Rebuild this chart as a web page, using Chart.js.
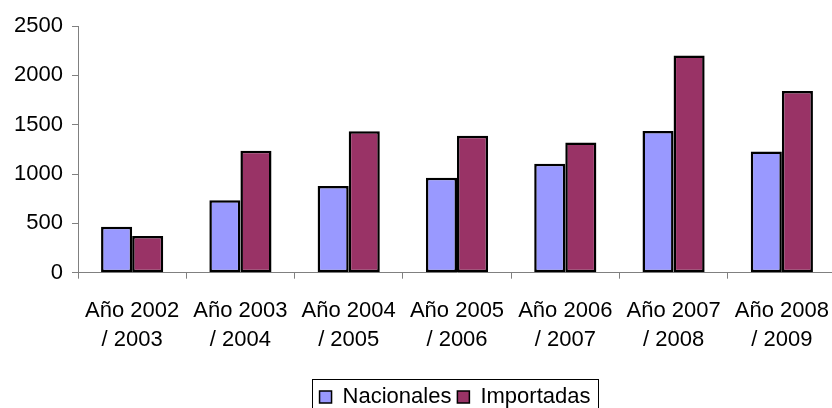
<!DOCTYPE html>
<html>
<head>
<meta charset="utf-8">
<script src="https://cdn.jsdelivr.net/npm/chart.js@4.4.0/dist/chart.umd.min.js"></script>
<style>
  html, body { margin: 0; padding: 0; overflow: hidden; background: #fff; }
</style>
</head>
<body>
<canvas id="grafico" width="900" height="418"></canvas>
<script>
// datos
const periodos = [
    ["Año 2002", "/ 2003"],
    ["Año 2003", "/ 2004"],
    ["Año 2004", "/ 2005"],
    ["Año 2005", "/ 2006"],
    ["Año 2006", "/ 2007"],
    ["Año 2007", "/ 2008"],
    ["Año 2008", "/ 2009"]
];
const nacionales = [466, 733, 878, 962, 1103, 1437, 1229];
const importadas = [371, 1235, 1434, 1387, 1320, 2200, 1842];
const ticksY = [0, 500, 1000, 1500, 2000, 2500];

const fuente = "'Liberation Sans', Arial, sans-serif";
Chart.defaults.font.family = fuente;
Chart.defaults.color = "#000";

// la leyenda del original no esta centrada en el lienzo (grafico recortado)
const desplazarLeyenda = {
    id: "desplazarLeyenda",
    afterLayout(chart) {
        chart.legend.left += 37;
        chart.legend.right += 37;
    }
};

// marco alrededor de la leyenda
const marcoLeyenda = {
    id: "marcoLeyenda",
    afterDraw(chart) {
        const cajas = chart.legend.legendHitBoxes;
        if (!cajas || !cajas.length) return;
        let izq = Infinity, der = -Infinity, arriba = Infinity, abajo = -Infinity;
        cajas.forEach(c => {
            izq = Math.min(izq, c.left);
            der = Math.max(der, c.left + c.width);
            arriba = Math.min(arriba, c.top);
            abajo = Math.max(abajo, c.top + c.height);
        });
        const ctx = chart.ctx;
        ctx.save();
        ctx.strokeStyle = "#000";
        ctx.lineWidth = 1;
        ctx.strokeRect(Math.round(izq - 8) + 0.5, Math.round(arriba - 7) + 0.5, Math.round(der - izq + 15), Math.round(abajo - arriba + 14));
        ctx.restore();
    }
};

function afficher(element, config) {
    return new Chart(document.getElementById(element), config);
}

const config = {
    type: "bar",
    data: {
        labels: periodos,
        datasets: [
            {
                label: "Nacionales",
                data: nacionales,
                backgroundColor: "#9999ff",
                borderColor: "#000",
                borderWidth: 2.5,
                borderSkipped: false
            },
            {
                label: "Importadas",
                data: importadas,
                backgroundColor: "#993366",
                borderColor: "#000",
                borderWidth: 2.5,
                borderSkipped: false
            }
        ]
    },
    options: {
        responsive: false,
        animation: false,
        layout: { padding: { top: 26, left: 0, right: 64, bottom: 0 } },
        datasets: {
            bar: { categoryPercentage: 0.574, barPercentage: 1.0 }
        },
        scales: {
            x: {
                afterFit: s => { s.height = 107.3; },
                grid: {
                    offset: true,
                    drawOnChartArea: false,
                    tickLength: 6,
                    color: "#808080"
                },
                border: { color: "#808080", width: 1 },
                ticks: {
                    padding: 18,
                    maxRotation: 0,
                    autoSkip: false,
                    font: { size: 22, lineHeight: 1.32 }
                }
            },
            y: {
                min: 0,
                max: 2500,
                afterFit: s => { s.width = 78; },
                afterBuildTicks: s => { s.ticks = ticksY.map(v => ({ value: v })); },
                grid: {
                    drawOnChartArea: false,
                    tickLength: 6,
                    color: "#808080"
                },
                border: { color: "#808080", width: 1 },
                ticks: {
                    padding: 9,
                    font: { size: 22 },
                    callback: v => String(v)
                }
            }
        },
        plugins: {
            tooltip: { enabled: false },
            legend: {
                position: "bottom",
                labels: {
                    boxWidth: 12,
                    boxHeight: 12,
                    padding: 6,
                    font: { size: 22 },
                    generateLabels: chart => chart.data.datasets.map((d, i) => ({
                        text: d.label,
                        fillStyle: d.backgroundColor,
                        strokeStyle: "#000",
                        lineWidth: 1.5,
                        datasetIndex: i
                    }))
                }
            }
        }
    },
    plugins: [desplazarLeyenda, marcoLeyenda]
};

window.grafico = afficher("grafico", config);
</script>
</body>
</html>
